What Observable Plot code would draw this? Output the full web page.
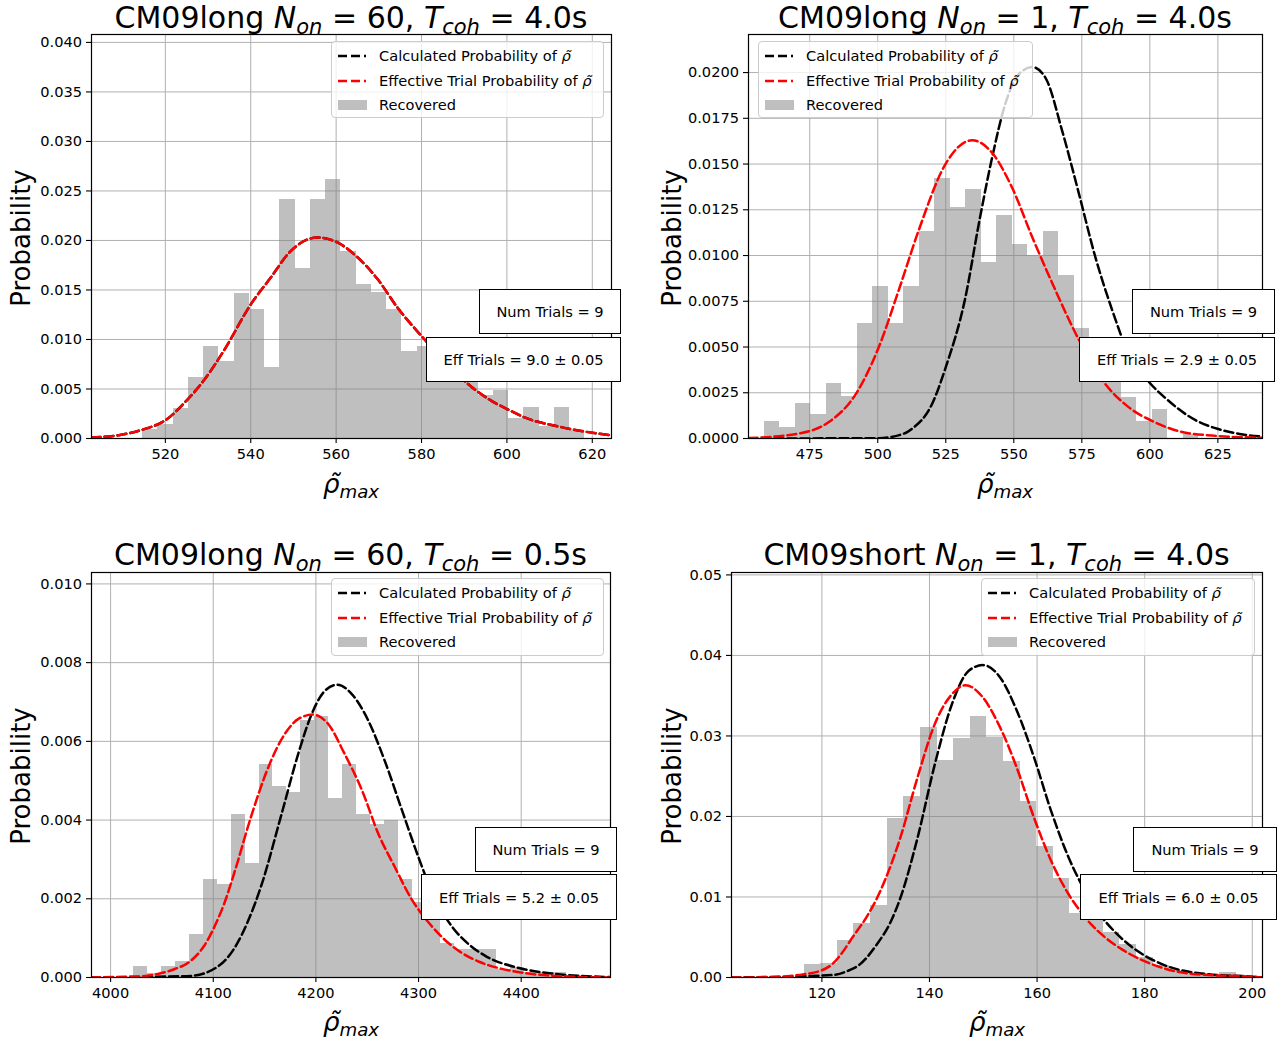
<!DOCTYPE html>
<html><head><meta charset="utf-8">
<script src="https://cdn.jsdelivr.net/npm/d3@7"></script>
<script src="https://cdn.jsdelivr.net/npm/@observablehq/plot@0.6"></script>
<style>
body{margin:0;background:#fff;font-family:"DejaVu Sans",sans-serif;color:#000;}
#fig{position:relative;width:1281px;height:1042px;overflow:hidden;background:#fff;}
.title{position:absolute;text-align:center;font-size:30px;line-height:35px;white-space:nowrap;}
.sub{font-size:70%;position:relative;top:0.3em;}
.ylab{position:absolute;font-size:26px;white-space:nowrap;transform:translate(-50%,-50%) rotate(-90deg);}
.xlab{position:absolute;font-size:26px;white-space:nowrap;transform:translate(-50%,-50%);}
.legend{position:absolute;border:1px solid #cccccc;border-radius:4px;background:rgba(255,255,255,0.8);font-size:14.6px;box-sizing:border-box;}
.row{position:absolute;white-space:nowrap;line-height:18px;height:18px;}
.tbox{position:absolute;background:#fff;border:1.5px solid #000;font-size:14.6px;display:flex;align-items:center;justify-content:center;box-sizing:border-box;white-space:nowrap;}
</style></head><body><div id="fig"></div>
<script>
// ---------- Panel 1: CM09long N_on = 60, T_coh = 4.0s ----------
const xTicks1 = [520, 540, 560, 580, 600, 620];
const yTicks1 = [0, 0.005, 0.010, 0.015, 0.020, 0.025, 0.030, 0.035, 0.040];
const binStart1 = 514.7, binWidth1 = 3.57;
const recovered1 = [0.0009, 0.0014, 0.0030, 0.0062, 0.0093, 0.0078, 0.0146, 0.0130, 0.0072, 0.0241, 0.0172, 0.0241, 0.0262, 0.0189, 0.0156, 0.0147, 0.0130, 0.0088, 0.0093, 0.0075, 0.0062, 0.0060, 0.0043, 0.0048, 0.0020, 0.0031, 0.0012, 0.0031, 0.0008];
const effX1 = [502.7, 510.0, 514.7, 520.2, 524.9, 528.9, 533.6, 540.1, 544.6, 549.3, 555.6, 560.3, 565.0, 569.7, 574.4, 580.3, 585.4, 590.9, 596.4, 600.4, 604.3, 612.2, 624.5];
const effY1 = [0.0001, 0.0004, 0.0009, 0.0019, 0.0038, 0.0058, 0.0088, 0.0136, 0.0162, 0.0189, 0.0203, 0.0198, 0.0183, 0.0161, 0.0132, 0.0102, 0.0078, 0.0055, 0.0038, 0.0029, 0.0021, 0.0012, 0.0003];
const calcX1 = effX1;
const calcY1 = effY1;

// ---------- Panel 2: CM09long N_on = 1, T_coh = 4.0s ----------
const xTicks2 = [475, 500, 525, 550, 575, 600, 625];
const yTicks2 = [0, 0.0025, 0.0050, 0.0075, 0.0100, 0.0125, 0.0150, 0.0175, 0.0200];
const binStart2 = 458.3, binWidth2 = 5.70;
const recovered2 = [0.00095, 0.0006, 0.0019, 0.0013, 0.0030, 0.0023, 0.0063, 0.0083, 0.0063, 0.0083, 0.0113, 0.0142, 0.0126, 0.0136, 0.0096, 0.0122, 0.0106, 0.0100, 0.0113, 0.0089, 0.0060, 0.0045, 0.0035, 0.00226, 0.00095, 0.0016, 0, 0.0002];
const effX2 = [452.5, 472.0, 482.0, 491.8, 500.4, 507.7, 515.1, 524.9, 534.7, 542.1, 549.4, 556.8, 564.1, 573.9, 582.5, 592.3, 600.9, 610.7, 622.9, 641.4];
const effY2 = [0.00002, 0.0003, 0.0009, 0.0024, 0.0050, 0.0081, 0.0114, 0.0150, 0.0163, 0.0156, 0.0137, 0.0110, 0.0085, 0.0054, 0.0032, 0.0017, 0.00095, 0.0004, 0.00016, 0.00004];
const calcX2 = [452.5, 500.4, 510.2, 512.6, 520.0, 525.0, 532.2, 537.1, 542.1, 546.9, 551.8, 556.8, 561.7, 567.8, 573.9, 580.0, 586.2, 592.3, 599.6, 605.8, 616.8, 624.8, 633.0, 641.4];
const calcY2 = [0, 0.00002, 0.0003, 0.00053, 0.0019, 0.0039, 0.0077, 0.0117, 0.0154, 0.0183, 0.0199, 0.0203, 0.0197, 0.0168, 0.0134, 0.0099, 0.0070, 0.0046, 0.0031, 0.0022, 0.0010, 0.00053, 0.00025, 0.0001];

// ---------- Panel 3: CM09long N_on = 60, T_coh = 0.5s ----------
const xTicks3 = [4000, 4100, 4200, 4300, 4400];
const yTicks3 = [0, 0.002, 0.004, 0.006, 0.008, 0.010];
const binStart3 = 4022.2, binWidth3 = 13.6;
const recovered3 = [0.00027, 0.0001, 0.00027, 0.0004, 0.0011, 0.00248, 0.00236, 0.00414, 0.0029, 0.0054, 0.00485, 0.0047, 0.00653, 0.00664, 0.00456, 0.0054, 0.00414, 0.00388, 0.0040, 0.00248, 0.0019, 0.0016, 0.00086, 0.0007, 0.0007, 0.0007, 0.0002, 0.00025, 0.00013, 0.00013, 0.00013];
const effX3 = [3981, 4013, 4029, 4046, 4062, 4078, 4091, 4101, 4111, 4121, 4137, 4153, 4170, 4183, 4197, 4212, 4228, 4245, 4261, 4277, 4293, 4305, 4313, 4323, 4339, 4359, 4378, 4404, 4452, 4487];
const effY3 = [0, 0.00002, 0.00003, 0.00009, 0.00021, 0.00042, 0.0008, 0.00128, 0.0019, 0.0027, 0.0041, 0.0053, 0.0062, 0.00657, 0.00668, 0.00644, 0.00568, 0.00475, 0.00364, 0.0028, 0.0020, 0.00155, 0.0013, 0.00102, 0.00068, 0.0004, 0.00024, 0.00011, 0.00002, 0];
const calcX3 = [3981, 4046, 4078, 4104, 4121, 4134, 4147, 4166, 4183, 4196, 4209, 4221, 4235, 4251, 4267, 4284, 4300, 4316, 4333, 4350, 4365, 4398, 4430, 4487];
const calcY3 = [0, 0.00002, 0.00004, 0.00027, 0.00076, 0.00144, 0.00235, 0.0041, 0.0057, 0.0067, 0.00729, 0.00744, 0.0072, 0.00653, 0.00551, 0.00424, 0.00305, 0.0020, 0.00128, 0.00082, 0.00055, 0.00024, 0.0001, 0.00001];

// ---------- Panel 4: CM09short N_on = 1, T_coh = 4.0s ----------
const xTicks4 = [120, 140, 160, 180, 200];
const yTicks4 = [0, 0.01, 0.02, 0.03, 0.04, 0.05];
const binStart4 = 116.7, binWidth4 = 3.088;
const recovered4 = [0.00158, 0.0018, 0.0046, 0.0067, 0.0089, 0.0197, 0.0225, 0.0311, 0.0270, 0.0297, 0.0324, 0.0298, 0.0268, 0.0218, 0.0163, 0.0123, 0.0080, 0.0075, 0.0056, 0.0041, 0.0025, 0.0015, 0.0009, 0.0005, 0.0003, 0.0006];
const effX4 = [103.2, 112, 115.5, 120.0, 121.9, 123.8, 125.7, 128.3, 130.2, 131.8, 134.6, 137.8, 141.0, 144.2, 146.7, 149.9, 153.1, 156.2, 159.4, 162.6, 165.8, 168.3, 170.2, 172.8, 176.0, 180.4, 185.5, 191.9, 200.1, 201.9];
const effY4 = [0, 0.00005, 0.0003, 0.0009, 0.00165, 0.0031, 0.005, 0.0075, 0.0098, 0.0122, 0.0174, 0.0249, 0.0315, 0.0352, 0.0363, 0.0348, 0.0311, 0.0261, 0.0199, 0.0145, 0.0104, 0.0080, 0.0065, 0.0049, 0.0034, 0.0019, 0.0008, 0.0003, 0.0001, 0];
const calcX4 = [103.2, 121.9, 125.1, 127.0, 130.2, 132.7, 134.6, 137.8, 141.0, 144.2, 147.3, 149.9, 153.1, 156.2, 159.4, 162.6, 165.8, 168.3, 171.5, 174.7, 179.1, 184.2, 191.9, 200.1, 201.9];
const calcY4 = [0, 0.0003, 0.0009, 0.0016, 0.0041, 0.0068, 0.0099, 0.0174, 0.0265, 0.034, 0.0381, 0.0388, 0.0373, 0.0332, 0.0274, 0.0207, 0.0150, 0.0115, 0.0080, 0.0055, 0.0031, 0.0014, 0.0004, 0.0001, 0];

// ---------- Texts ----------
const titleNames = ["CM09long", "CM09long", "CM09long", "CM09short"];
const titleNon = ["60", "1", "60", "1"];
const titleTcoh = ["4.0s", "4.0s", "0.5s", "4.0s"];
const numTrials = ["9", "9", "9", "9"];
const effTrials = ["9.0", "2.9", "5.2", "6.0"];
const effErr = "0.05";
const legendLabels = ["Calculated Probability of", "Effective Trial Probability of", "Recovered"];

// ---------- Layout ----------
const panels = [
  {left: 0, top: 0, w: 640, h: 521, m: [34, 29, 83, 91], xDomain: [502.7, 624.5], yDomain: [0, 0.0408], yFmt: ".3f",
   xTicks: xTicks1, yTicks: yTicks1, binStart: binStart1, binWidth: binWidth1, heights: recovered1,
   calcX: calcX1, calcY: calcY1, effX: effX1, effY: effY1,
   titleTop: 0, ylab: [21, 238], xlab: [351, 484],
   legend: {l: 331, t: 41, w: 273, h: 77}, num: {l: 479, t: 289, w: 142, h: 45}, eff: {l: 426, t: 337, w: 195, h: 45}},
  {left: 640, top: 0, w: 641, h: 521, m: [34, 19, 83, 108], xDomain: [452.5, 641.4], yDomain: [0, 0.02208], yFmt: ".4f",
   xTicks: xTicks2, yTicks: yTicks2, binStart: binStart2, binWidth: binWidth2, heights: recovered2,
   calcX: calcX2, calcY: calcY2, effX: effX2, effY: effY2,
   titleTop: 0, ylab: [672, 238], xlab: [1005, 484],
   legend: {l: 758, t: 41, w: 275, h: 77}, num: {l: 1132, t: 289, w: 143, h: 45}, eff: {l: 1079, t: 337, w: 196, h: 45}},
  {left: 0, top: 521, w: 640, h: 521, m: [51, 30, 65, 91], xDomain: [3981.4, 4487], yDomain: [0, 0.01029], yFmt: ".3f",
   xTicks: xTicks3, yTicks: yTicks3, binStart: binStart3, binWidth: binWidth3, heights: recovered3,
   calcX: calcX3, calcY: calcY3, effX: effX3, effY: effY3,
   titleTop: 537, ylab: [21, 776], xlab: [351, 1022],
   legend: {l: 331, t: 578, w: 273, h: 78}, num: {l: 475, t: 827, w: 142, h: 45}, eff: {l: 421, t: 874, w: 196, h: 46}},
  {left: 640, top: 521, w: 641, h: 521, m: [51, 19, 65, 91], xDomain: [103.2, 201.9], yDomain: [0, 0.0503], yFmt: ".2f",
   xTicks: xTicks4, yTicks: yTicks4, binStart: binStart4, binWidth: binWidth4, heights: recovered4,
   calcX: calcX4, calcY: calcY4, effX: effX4, effY: effY4,
   titleTop: 537, ylab: [672, 776], xlab: [997, 1022],
   legend: {l: 981, t: 578, w: 274, h: 78}, num: {l: 1133, t: 827, w: 144, h: 45}, eff: {l: 1080, t: 874, w: 197, h: 46}}
];

const fig = document.getElementById("fig");
const RHO = "\u03C1\u0303";
const dash = "9,4";

function el(cls, html, css) {
  const d = document.createElement("div");
  d.className = cls;
  d.innerHTML = html;
  Object.assign(d.style, css);
  fig.appendChild(d);
  return d;
}

panels.forEach((p, k) => {
  const bars = p.heights.map((h, i) => ({x1: p.binStart + i * p.binWidth, x2: p.binStart + (i + 1) * p.binWidth, h}));
  const calc = p.calcX.map((x, i) => ({x, y: p.calcY[i]}));
  const eff = p.effX.map((x, i) => ({x, y: p.effY[i]}));
  const [mt, mr, mb, ml] = p.m;
  const svg = Plot.plot({
    width: p.w, height: p.h,
    marginTop: mt, marginRight: mr, marginBottom: mb, marginLeft: ml,
    x: {domain: p.xDomain},
    y: {domain: p.yDomain},
    style: {fontFamily: '"DejaVu Sans", sans-serif', fontSize: "14.6px", color: "#000", background: "transparent", overflow: "visible"},
    marks: [
      Plot.gridX(p.xTicks, {stroke: "#b0b0b0", strokeOpacity: 1, strokeWidth: 1}),
      Plot.gridY(p.yTicks, {stroke: "#b0b0b0", strokeOpacity: 1, strokeWidth: 1}),
      Plot.rect(bars, {x1: "x1", x2: "x2", y1: 0, y2: "h", fill: "#808080", fillOpacity: 0.5, inset: 0, shapeRendering: "crispEdges"}),
      Plot.line(calc, {x: "x", y: "y", stroke: "black", strokeWidth: 2.5, strokeDasharray: dash, curve: "monotone-x", clip: true}),
      Plot.line(eff, {x: "x", y: "y", stroke: "red", strokeWidth: 2.5, strokeDasharray: dash, curve: "monotone-x", clip: true}),
      Plot.frame({stroke: "black", strokeWidth: 1.2}),
      Plot.axisX(p.xTicks, {tickSize: 5, tickPadding: 5.5, tickFormat: d3.format("d"), fontSize: 14.6, label: null, strokeWidth: 1.1}),
      Plot.axisY(p.yTicks, {tickSize: 5, tickPadding: 4.5, tickFormat: d3.format(p.yFmt), fontSize: 14.6, label: null, strokeWidth: 1.1})
    ]
  });
  Object.assign(svg.style, {position: "absolute", left: p.left + "px", top: p.top + "px"});
  fig.appendChild(svg);

  const fl = p.left + ml, fw = p.w - ml - mr;
  el("title", `${titleNames[k]} <i>N</i><span class="sub"><i>on</i></span> = ${titleNon[k]}, <i>T</i><span class="sub"><i>coh</i></span> = ${titleTcoh[k]}`,
     {left: fl + "px", width: fw + "px", top: p.titleTop + "px"});
  el("ylab", "Probability", {left: p.ylab[0] + "px", top: p.ylab[1] + "px"});
  el("xlab", `<i>${RHO}</i><span class="sub"><i>max</i></span>`, {left: p.xlab[0] + "px", top: p.xlab[1] + "px"});

  const L = p.legend;
  const lg = el("legend", "", {left: L.l + "px", top: L.t + "px", width: L.w + "px", height: L.h + "px"});
  const rowsY = [14, 39, 63];
  const handles = [
    `<svg width="30" height="12" style="position:absolute;left:0;top:3px"><line x1="1" x2="29" y1="6" y2="6" stroke="black" stroke-width="2.5" stroke-dasharray="${dash}"/></svg>`,
    `<svg width="30" height="12" style="position:absolute;left:0;top:3px"><line x1="1" x2="29" y1="6" y2="6" stroke="red" stroke-width="2.5" stroke-dasharray="${dash}"/></svg>`,
    `<svg width="30" height="12" style="position:absolute;left:0;top:3px"><rect x="1" y="1" width="29" height="10" fill="#808080" fill-opacity="0.5"/></svg>`
  ];
  legendLabels.forEach((t, i) => {
    const r = document.createElement("div");
    r.className = "row";
    r.style.left = "5px";
    r.style.top = (rowsY[i] - 9) + "px";
    r.innerHTML = handles[i] + `<span style="position:absolute;left:42px;top:0">${t}${i < 2 ? ` <i>${RHO}</i>` : ""}</span>`;
    lg.appendChild(r);
  });

  el("tbox", `Num Trials = ${numTrials[k]}`, {left: p.num.l + "px", top: p.num.t + "px", width: p.num.w + "px", height: p.num.h + "px"});
  el("tbox", `Eff Trials = ${effTrials[k]} ± ${effErr}`, {left: p.eff.l + "px", top: p.eff.t + "px", width: p.eff.w + "px", height: p.eff.h + "px"});
});
</script></body></html>
